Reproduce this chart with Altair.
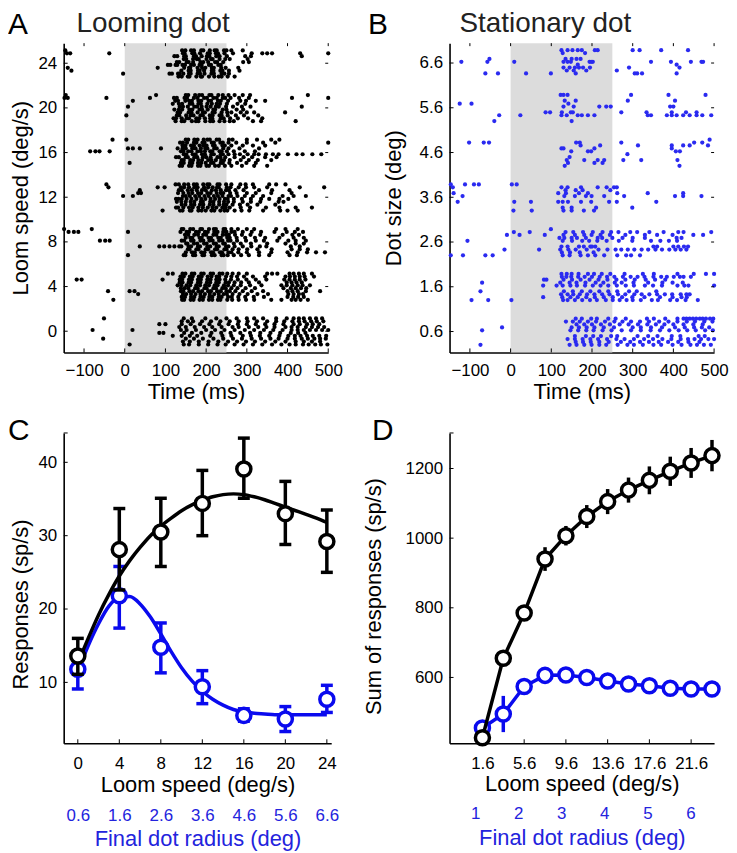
import altair as alt
import pandas as pd

FONT = "Liberation Sans"
BLUE_DOT = "#2a2af0"
BLUE = "#0a0aee"
BLUE_TXT = "#2323dd"
GRAY = "#dcdcdc"

# ---------------- Panel A: raster, spike times (ms) per trial ----------------
STIM_ON, STIM_OFF = 0, 250
A_SPEEDS = [0, 4, 8, 12, 16, 20, 24]
A_24 = ["-146 141 149 163 170 188 193 209 221 226 244 250 262 290",
        "-140 81 146 158 161 179 190 198 214 219 237 248 279",
        "145 151 168 177 182 201 212 216 233 247 258 302",
        "132 140 155 159 176 187 190 207 220 231 238 253 270",
        "-142 -134 -38 143 147 166 171 185 204 209 224 229 245 266 312 338 350 362 431 500",
        "-131 139 157 162 180 184 195 214 218 235 240 256 282",
        "128 134 152 157 168 186 193 205 222 227 242 291 305",
        "122 129 146 150 170 175 189 202 208 225 233 251 296 310 435",
        "-4 110 116 131 135 144 158 162 179 185 196 213 219 238 245 256",
        "106 112 125 129 142 148 163 170 184 189 207 212 230 236"]
A_20 = ["-145 77 150 156 173 183 190 208 213 230 241 255 270 290 308 450",
        "130 136 157 164 179 192 197 216 221 238 252 262 285 300 318 394",
        "118 133 141 160 166 181 187 203 214 226 234 251 277 296",
        "125 140 146 165 175 181 198 210 217 233 245 258 268 315 335 420",
        "-148 -140 -45 62 121 128 147 153 170 179 195 202 218 226 241 247 260 281 305 411 500",
        "4 128 134 151 162 169 186 192 209 216 233 238 253 273 293 328",
        "8 135 143 155 171 178 189 201 211 224 231 249 266 288 309 435",
        "20 124 131 149 158 165 181 188 206 212 229 236 254 284 298 322 345",
        "120 126 140 152 158 176 183 197 210 215 236 243 259 278 303 338",
        "122 133 141 159 166 184 190 204 218 222 241 250 275 291"]
A_16 = ["-30 4 150 156 171 179 194 203 209 226 232 256 265 300 325 360 380",
        "126 133 150 155 171 178 192 200 211 228 235 247 270 292 313 345 373",
        "8 20 37 89 130 142 150 166 174 187 198 203 220 226 242 255 282 330",
        "135 141 158 164 180 186 201 207 222 231 246 262 288 318 350",
        "136 143 153 170 176 191 196 214 219 235 241 255 274 300 340 370 500",
        "140 145 161 168 181 190 205 213 224 237 244 258 285 305 327 360",
        "-85 -72 -62 -37 138 144 156 164 179 187 197 210 215 233 238 251 268 295 320",
        "142 149 163 170 184 193 201 217 221 240 246 262 290 315 345",
        "12 138 145 160 166 180 188 199 212 218 236 241 257 276 299 322",
        "145 151 167 174 190 197 213 219 236 241 255 270 283 302 318 329 347 364 378 401 422 437 461 483"]
A_12 = ["-45 125 133 146 156 170 177 193 203 208 228 233 249 262 284 297 315 355 372 395",
        "128 139 150 162 171 187 192 210 218 232 244 254 268 290 310 333 378 390",
        "33 40 131 144 157 166 180 188 203 211 226 236 242 259 275 300 322 360 410",
        "93 136 142 160 164 181 189 199 213 220 235 245 252 270 287 306 340 382 400 425",
        "-40 81 98 138 146 158 171 179 195 205 216 227 231 251 260 280 298 318 350 430 490",
        "140 149 163 171 185 193 209 218 232 243 250 265 283 302 326 370",
        "-4 20 143 150 160 173 183 196 206 219 229 240 255 261 277 295 315 340 388 415 445",
        "37 133 140 155 165 177 190 199 214 224 236 249 256 272 292 330 362 405",
        "126 131 144 158 167 181 192 204 216 225 240 248 258 285 308 347 380 420 460",
        "126 132 140 152 164 176 188 198 211 222 233 246 253 268 288 310 335 355 380 402"]
A_8 = ["-149 -81 140 144 161 168 186 190 207 219 224 243 247 262 278 300 318 372 395 425",
       "37 85 97 110 122 134 139 157 163 180 185 203 210 226 231 249 255 270 290 311 332 348 408 430",
       "150 161 166 184 189 206 212 230 236 252 258 275 296 320 345 380 415 440",
       "8 145 149 168 173 191 195 214 221 238 243 253 268 286 305 330 355 405 423",
       "-138 -125 -114 8 137 152 158 175 182 197 204 220 228 242 250 262 270 290 312 335 368 398 418 438",
       "155 159 176 181 199 205 222 227 245 250 265 280 301 326 361 410 430 450",
       "-61 -48 -37 140 146 163 169 186 193 208 216 232 240 254 260 276 298 322 342 375 402 420 445",
       "148 156 171 180 193 200 218 225 241 249 256 271 288 309 333 388 412 428",
       "150 165 172 188 196 212 217 234 239 255 262 279 300 330 360 400 425 448 470 492",
       "151 154 170 178 195 201 219 224 242 246 268 285 310 350 395 420 440"]
A_4 = ["106 118 142 149 165 171 188 194 211 217 233 240 252 265 280 300 350 362 375 405 415 428 440 460",
       "-41 12 24 138 144 159 168 181 190 205 212 227 236 250 258 272 290 312 340 400 412 425 445 480",
       "135 142 157 163 180 186 202 210 225 231 248 256 270 286 305 330 398 410 422 435",
       "-28 141 146 162 169 184 192 207 215 229 235 252 264 280 298 318 360 385 410 420 432 450",
       "137 145 160 167 182 189 204 213 226 232 249 262 276 293 315 345 395 406 418 430 442 465",
       "33 143 151 163 174 186 197 209 220 231 243 251 265 282 302 326 352 402 415 428 438",
       "130 139 152 161 176 185 198 207 221 228 244 254 268 285 308 336 385 398 412 425 437 455",
       "-118 -106 93 135 141 158 165 180 187 203 211 225 233 247 261 278 299 322 348 392 405 418 430 444",
       "140 148 163 171 186 194 208 215 231 238 254 263 279 296 317 342 400 414 426 440",
       "138 147 156 173 179 196 201 218 224 240 248 262 277 297 320 390 408 420 433 446"]
A_0 = ["-51 145 165 198 225 250 275 300 318 340 372 398 415 428 440 455 470 485",
       "118 140 160 178 210 240 262 290 310 332 355 380 402 418 432 448 462 478 495",
       "134 150 172 195 215 238 265 280 305 328 348 368 395 410 425 445 460 475 490",
       "12 145 158 182 205 228 248 270 292 315 338 362 385 405 420 438 452 468 482 498",
       "140 155 168 190 212 235 258 280 302 325 350 372 392 412 428 442 458 472 488",
       "-53 150 170 192 218 242 266 288 312 335 358 378 400 418 435 450 466 480 494",
       "-79 19 138 152 175 200 222 245 270 295 318 342 365 388 410 425 440 455 470 485 500",
       "85 100 140 162 185 208 232 255 278 300 322 345 368 390 415 430 448 462 478",
       "143 160 182 206 230 254 276 298 320 345 370 395 420 440 460 480",
       "85 95 146 165 188 213 237 260 284 308 333 358 382 408 426 444"]

# ---------------- Panel B: raster per dot size ----------------
B_SIZES = [0.6, 1.6, 2.6, 3.6, 4.6, 5.6, 6.6]
B_66 = ["125 140 152 165 175 207 214 300 317 370 436",
        "130 145 158 168 178 195 291 415",
        "-52 135 150 162 172",
        "",
        "128 183",
        "138 155 186 261",
        "-121 -57 9 130 140 148 194 198 202 345 394 443 469 473",
        "",
        "-62 -31 38 99 160 305 311 323 408",
        "165 408"]
B_56 = ["123 130 140 296 388 479",
        "86 97 126 148 153 272 334 396 431 457",
        "-125 -96 142",
        "-40 150",
        "",
        "-28 24 125 138 165 175 190 206 337 345 384 396 408 424 440 457 471 493",
        "130 155 218 235 246 392 400",
        "133 160 288 404",
        "", ""]
B_46 = ["489", "145", "125 130 206 396", "133 415",
        "-102 -66 -53 161 170 272 451 471",
        "138 181 214 230 277 321 410",
        "149 190 198 406 416",
        "172 220 313 396 424 440 485",
        "141 206 226", "287"]
B_36 = ["-147 -112 -90 -78 3 15",
        "-130 9 50 117 128 141 173 198 242 261 358",
        "-140 117 136 168 190 262 337 424",
        "7 52 130 150 180 205",
        "-142 125 140 173 214 236 254 261",
        "",
        "-118 132 158 185 199 230 279 404 424 469",
        "135 160 177 245",
        "128 150 210 299", ""]
B_26 = ["99",
        "125 140 168 180 196 200 208 351 360 400 412 426 436",
        "120 132 150 163 185 214 225 250 275 300 330 408 420",
        "-147 -117 -62 -44 128 145 172 190 208 230 262 284 296 318",
        "8 47 135 154 178 202 226 247 265 294 311 341 376 412 425 493",
        "-15 70 122 142 160 187 216 238 258 272 288 304 322 338 356 372 390 405 418 432",
        "-106 128 151 176 193 213 236 266 299 345 368 389 409",
        "-9 22 84 130 158 181 199 221 244 282 330 360 398 449 473",
        "126 146 170 204", ""]
B_16 = ["125 138 150 167 190 205 224 245 280 325 352 410 450 480 500",
        "-74 131 153 175 196 218 240 262 291 310 358",
        "-70 122 145 162 184 209 228 256 273 302 338 373 398 423",
        "-96 -55 2 129 140 158 176 195 212 234 251 268 285 300 320 347 362 392 409 430 460",
        "126 137 149 166 182 200 219 237 255 276 295 312 329 351 370 384 401 416 425 443",
        "124 140 154 170 188 206 225 243 264 282 304 322 341 360 379 397 418 432 440",
        "80 113 128 147 163 183 202 221 240 261 283 303 330 350 372 410 427 437 500",
        "82 88 130 151 172 194 216 238 260 282 305 332 355 380",
        "80 127 147 165 186 207 229 251 274 299 329 367 398 420 433", ""]
B_06 = ["160 175 198 212 240 258 283 335 352 380 410 425 432 440 448 456 465 472 480 490 498",
        "158 185 203 222 247 262 312 338 361 396 417 462 477",
        "-21 150 168 187 206 229 254 300 320 345 372 404 428 451 470 488",
        "-74 145 162 181 199 218 235 263 287 303 325 351 370 398 420 442 458 475 492",
        "136 153 170 190 210 232 255 275 296 318 340 365 388 410 433 453 476 496",
        "140 158 177 196 215 237 260 280 303 328 350 373 395 418 436 452 468 486 500",
        "-70 147 166 186 204 226 248 273 296 320 344 367 390 413 434 455 478 497",
        "162 181 200 222 244 268 290 313 336 357 378 400 425 449 472",
        "160 178 197 218 241 271 294 318 340 364 387 412 437 464", ""]

# row (within a condition band) on which each listed trial is drawn
ROW_ORDER = [0, 6, 3, 9, 1, 7, 4, 2, 8, 5]

# ---------------- Panel C ----------------
C_SPEED = [0, 4, 8, 12, 16, 20, 24]
C_RADIUS = [0.6, 1.6, 2.6, 3.6, 4.6, 5.6, 6.6]
C_LOOM_MEAN = [13.6, 28.1, 30.5, 34.4, 39.1, 33.0, 29.2]
C_LOOM_LO = [11.1, 22.6, 25.8, 30.0, 35.1, 28.8, 25.0]
C_LOOM_HI = [16.0, 33.7, 35.1, 38.9, 43.3, 37.4, 33.5]
C_STAT_MEAN = [11.8, 21.8, 14.8, 9.4, 5.5, 5.0, 7.7]
C_STAT_LO = [9.1, 17.4, 11.3, 7.1, 4.7, 3.3, 5.9]
C_STAT_HI = [13.2, 25.8, 18.1, 11.6, 6.4, 6.7, 9.6]
FIT_X = list(range(0, 25))
FIT_LOOM = [12.6, 16.0, 19.2, 22.0, 24.5, 26.6, 28.4, 30.0, 31.3, 32.4, 33.4, 34.2, 34.8,
            35.3, 35.6, 35.7, 35.6, 35.3, 34.9, 34.4, 33.9, 33.4, 32.9, 32.4, 31.8]
FIT_STAT = [11.5, 15.0, 18.0, 20.4, 21.6, 21.7, 20.7, 18.9, 16.6, 14.2, 12.0, 10.2, 8.8,
            7.7, 6.9, 6.3, 6.0, 5.8, 5.7, 5.6, 5.6, 5.6, 5.6, 5.6, 5.6]

# ---------------- Panel D ----------------
D_SPEED = [1.6, 3.6, 5.6, 7.6, 9.6, 11.6, 13.6, 15.6, 17.6, 19.6, 21.6, 23.6]
D_SPEED_TICKS = [1.6, 5.6, 9.6, 13.6, 17.6, 21.6]
D_RADIUS_TICKS = [1, 2, 3, 4, 5, 6]
D_LOOM = [427, 655, 785, 940, 1007, 1062, 1105, 1138, 1166, 1192, 1216, 1237]
D_LOOM_ERR = [8, 12, 14, 34, 28, 33, 36, 36, 40, 42, 43, 45]
D_STAT = [455, 495, 574, 606, 607, 600, 590, 581, 576, 569, 567, 567]
D_STAT_ERR = [10, 52, 15, 8, 8, 8, 8, 8, 8, 8, 8, 8]

# ---------------- layout constants ----------------
TRIAL_TOP, TRIAL_STEP = 1.15, 0.26
W_A, H_A = 266, 311
W_C, W_D, H_C = 269, 266, 312
TICK = 4
MARK_SIZE = 200
LW = 3.5


def raster_df(conds, trial_lists, unit):
    rows = []
    for c, trials in zip(conds, trial_lists):
        for k, s in enumerate(trials):
            r = ROW_ORDER[k]
            for t in s.split():
                rows.append({"t": float(t), "y": c + (TRIAL_TOP - r * TRIAL_STEP) * unit})
    return pd.DataFrame(rows)


def axis(values, title, fmt=None, pad=8, color="black", offset=None, tX=None, tY=None,
         title_pad=3):
    kw = dict(values=values, ticks=False, domainColor="black", domainWidth=1.6,
              labelFont=FONT, labelFontSize=17, labelColor=color, labelPadding=pad,
              labelFlush=False, labelOverlap=False, grid=False,
              title=title, titleFont=FONT, titleFontSize=22, titleFontWeight="normal",
              titleColor=color, titlePadding=title_pad)
    if fmt:
        kw["format"] = fmt
    if offset is not None:
        kw["offset"] = offset
        kw["domain"] = False
        kw["orient"] = "bottom"
    if tX is not None:
        kw["titleX"] = tX
        kw["titleY"] = tY
    return alt.Axis(**kw)


def text(txt, x, y, size, color="black"):
    return alt.Chart(pd.DataFrame({"a": [0]})).mark_text(
        text=txt, align="left", baseline="alphabetic", fontSize=size, font=FONT,
        color=color).encode(x=alt.value(x), y=alt.value(y))


def ticks(xsc, ysc, xa, ya, xvals, yvals, W, H, top_right=False):
    out = []
    dx = pd.DataFrame({"v": xvals})
    dy = pd.DataFrame({"v": yvals})
    out.append(alt.Chart(dx).mark_rule(color="black", strokeWidth=1).encode(
        x=alt.X("v:Q", scale=xsc, axis=xa), y=alt.value(H), y2=alt.value(H - TICK)))
    out.append(alt.Chart(dy).mark_rule(color="black", strokeWidth=1).encode(
        y=alt.Y("v:Q", scale=ysc, axis=ya), x=alt.value(0), x2=alt.value(TICK)))
    if top_right:
        out.append(alt.Chart(dx).mark_rule(color="black", strokeWidth=1).encode(
            x=alt.X("v:Q", scale=xsc, axis=xa), y=alt.value(0), y2=alt.value(TICK - 1)))
        out.append(alt.Chart(dy).mark_rule(color="black", strokeWidth=1).encode(
            y=alt.Y("v:Q", scale=ysc, axis=ya), x=alt.value(W - TICK + 1), x2=alt.value(W)))
    return out


def raster_panel(df, ydom, yvals, yfmt, ytitle, tX, color, letter, lx, title, tx):
    xsc = alt.Scale(domain=[-150, 500], nice=False, zero=False)
    ysc = alt.Scale(domain=ydom, nice=False, zero=False)
    xa = axis(list(range(-100, 501, 100)), "Time (ms)", pad=10, title_pad=3)
    ya = axis(yvals, ytitle, fmt=yfmt, pad=7, tX=tX, tY=H_A / 2)
    gray = alt.Chart(pd.DataFrame({"s": [STIM_ON], "e": [STIM_OFF]})).mark_rect(
        color=GRAY).encode(x=alt.X("s:Q", scale=xsc, axis=xa), x2="e:Q",
                           y=alt.value(0), y2=alt.value(H_A))
    dots = alt.Chart(df).mark_circle(size=18, color=color, opacity=1).encode(
        x=alt.X("t:Q", scale=xsc, axis=xa),
        y=alt.Y("y:Q", scale=ysc, axis=ya))
    layers = [gray, dots] + ticks(xsc, ysc, xa, ya, list(range(-100, 501, 100)), yvals,
                                  W_A, H_A, True)
    layers += [text(letter, lx, -9, 30), text(title, tx, -11, 28, "#222222")]
    return alt.layer(*layers).properties(width=W_A, height=H_A)


A_df = raster_df(A_SPEEDS, [A_0, A_4, A_8, A_12, A_16, A_20, A_24], 1.0)
B_df = raster_df(B_SIZES, [B_06, B_16, B_26, B_36, B_46, B_56, B_66], 0.25)

panelA = raster_panel(A_df, [-1.9, 25.8], A_SPEEDS, None, "Loom speed (deg/s)", -31,
                      "black", "A", -56, "Looming dot", 13)
panelB = raster_panel(B_df, [0.133, 7.044], B_SIZES, ".1f", "Dot size (deg)", -44,
                      BLUE_DOT, "B", -82, "Stationary dot", 10)

# ---------------- Panel C chart ----------------
cxs = alt.Scale(domain=[-1.36, 24.42], nice=False, zero=False)
cys = alt.Scale(domain=[1.7, 44], nice=False, zero=False)
c_ya = axis([10, 20, 30, 40], "Responses (sp/s)", pad=7, tX=-31, tY=172)
c_pts = pd.DataFrame({"x": C_SPEED, "lm": C_LOOM_MEAN, "llo": C_LOOM_LO, "lhi": C_LOOM_HI,
                      "sm": C_STAT_MEAN, "slo": C_STAT_LO, "shi": C_STAT_HI})
c_fit = pd.DataFrame({"x": FIT_X, "loom": FIT_LOOM, "stat": FIT_STAT})


def c_series(col_mean, col_lo, col_hi, fitcol, color):
    base = alt.Chart(c_pts)
    X = alt.X("x:Q", scale=cxs, axis=None)
    fit = alt.Chart(c_fit).mark_line(color=color, strokeWidth=LW, interpolate="monotone").encode(
        x=X, y=alt.Y(f"{fitcol}:Q", scale=cys, axis=c_ya))
    err = base.mark_rule(color=color, strokeWidth=LW).encode(
        x=X, y=alt.Y(f"{col_lo}:Q", scale=cys, axis=c_ya), y2=f"{col_hi}:Q")
    cap1 = base.mark_tick(color=color, orient="horizontal", size=12, thickness=LW, opacity=1).encode(
        x=X, y=alt.Y(f"{col_lo}:Q", scale=cys, axis=c_ya))
    cap2 = base.mark_tick(color=color, orient="horizontal", size=12, thickness=LW, opacity=1).encode(
        x=X, y=alt.Y(f"{col_hi}:Q", scale=cys, axis=c_ya))
    pts = base.mark_point(shape="circle", filled=True, fill="white", stroke=color,
                          strokeWidth=LW, size=MARK_SIZE, opacity=1).encode(
        x=X, y=alt.Y(f"{col_mean}:Q", scale=cys, axis=c_ya))
    return [fit, err, cap1, cap2, pts]


c_axes = alt.Chart(c_pts).mark_point(opacity=0).encode(
    x=alt.X("x:Q", scale=cxs, axis=axis(C_SPEED, "Loom speed (deg/s)", pad=12, title_pad=4)),
    y=alt.Y("lm:Q", scale=cys, axis=c_ya))
c_rad = alt.Chart(pd.DataFrame({"r": C_RADIUS})).mark_point(opacity=0).encode(
    x=alt.X("r:Q", scale=alt.Scale(domain=[0.26, 6.705], nice=False, zero=False),
            axis=axis(C_RADIUS, "Final dot radius (deg)", fmt=".1f", pad=9, color=BLUE_TXT,
                      offset=56, title_pad=5)),
    y=alt.value(0))
panelC = alt.layer(
    c_axes, c_rad,
    *ticks(cxs, cys, None, c_ya, C_SPEED, [10, 20, 30, 40, 44], W_C, H_C),
    *c_series("sm", "slo", "shi", "stat", BLUE),
    *c_series("lm", "llo", "lhi", "loom", "black"),
    text("C", -56, 7, 30),
).resolve_scale(x="independent").properties(width=W_C, height=H_C)

# ---------------- Panel D chart ----------------
dxs = alt.Scale(domain=[-1.55, 23.8], nice=False, zero=False)
dys = alt.Scale(domain=[411, 1302], nice=False, zero=False)
d_ya = axis([600, 800, 1000, 1200], "Sum of responses (sp/s)", fmt="d", pad=7, tX=-64, tY=164)
d_pts = pd.DataFrame({"x": D_SPEED, "l": D_LOOM, "le": D_LOOM_ERR, "s": D_STAT, "se": D_STAT_ERR})
d_pts["llo"] = d_pts["l"] - d_pts["le"]
d_pts["lhi"] = d_pts["l"] + d_pts["le"]
d_pts["slo"] = d_pts["s"] - d_pts["se"]
d_pts["shi"] = d_pts["s"] + d_pts["se"]


def d_series(col, lo, hi, color):
    base = alt.Chart(d_pts)
    X = alt.X("x:Q", scale=dxs, axis=None)
    line = base.mark_line(color=color, strokeWidth=LW).encode(
        x=X, y=alt.Y(f"{col}:Q", scale=dys, axis=d_ya))
    err = base.mark_rule(color=color, strokeWidth=LW).encode(
        x=X, y=alt.Y(f"{lo}:Q", scale=dys, axis=d_ya), y2=f"{hi}:Q")
    pts = base.mark_point(shape="circle", filled=True, fill="white", stroke=color,
                          strokeWidth=LW, size=MARK_SIZE, opacity=1).encode(
        x=X, y=alt.Y(f"{col}:Q", scale=dys, axis=d_ya))
    return [line, err, pts]


d_axes = alt.Chart(d_pts).mark_point(opacity=0).encode(
    x=alt.X("x:Q", scale=dxs, axis=axis(D_SPEED_TICKS, "Loom speed (deg/s)", fmt=".1f", pad=12,
                                         title_pad=3)),
    y=alt.Y("l:Q", scale=dys, axis=d_ya))
d_rad = alt.Chart(pd.DataFrame({"r": D_RADIUS_TICKS})).mark_point(opacity=0).encode(
    x=alt.X("r:Q", scale=alt.Scale(domain=[0.407, 6.55], nice=False, zero=False),
            axis=axis(D_RADIUS_TICKS, "Final dot radius (deg)", fmt="d", pad=9, color=BLUE_TXT,
                      offset=54, title_pad=6)),
    y=alt.value(0))
panelD = alt.layer(
    d_axes, d_rad,
    *ticks(dxs, dys, None, d_ya, D_SPEED_TICKS, [600, 800, 1000, 1200, 1302], W_D, H_C),
    *d_series("s", "slo", "shi", BLUE),
    *d_series("l", "llo", "lhi", "black"),
    text("D", -78, 7, 30),
).resolve_scale(x="independent").properties(width=W_D, height=H_C)

chart = alt.concat(panelA, panelB, panelC, panelD, columns=2,
                   spacing={"row": 81, "column": 119}, bounds="flush").configure_view(
    stroke=None).properties(padding=0)

chart.save("out.html", embed_options={"renderer": "svg", "actions": False})
